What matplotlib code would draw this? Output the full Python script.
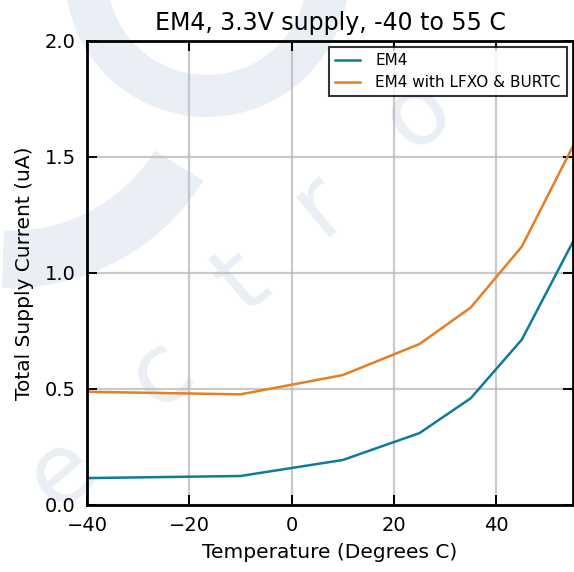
import matplotlib
matplotlib.use("Agg")
import matplotlib.pyplot as plt
from matplotlib.patches import Wedge
from matplotlib.transforms import IdentityTransform

temps = [-40, -10, 10, 25, 35, 45, 55]
em4 = [0.116, 0.125, 0.194, 0.310, 0.460, 0.713, 1.135]
em4_lfxo = [0.488, 0.477, 0.560, 0.694, 0.851, 1.114, 1.547]
series_labels = ["EM4", "EM4 with LFXO & BURTC"]
xticks = [-40, -20, 0, 20, 40]
yticks = [0.0, 0.5, 1.0, 1.5, 2.0]

W, H = 574, 572
fig = plt.figure(figsize=(W / 100, H / 100), dpi=100)
fig.patch.set_facecolor("white")

# faint watermark (pixel coords, origin bottom-left)
wm = "#eaeff6"
fig.patches.append(Wedge((207, H + 25), 142, 180, 360, width=42, transform=IdentityTransform(),
                         facecolor=wm, edgecolor="none", zorder=0))
fig.patches.append(Wedge((10, H - 60), 228, 268, 328, width=57, transform=IdentityTransform(),
                         facecolor=wm, edgecolor="none", zorder=0))
for ch, (px, py) in zip("ectro", [(62, 473), (161, 374), (242, 282), (319, 205), (418, 114)]):
    fig.text(px / W, 1 - py / H, ch, fontsize=70, color=wm, rotation=40,
             ha="center", va="center", zorder=0)

ax = fig.add_axes([87 / W, 1 - 505 / H, 486 / W, 464 / H])
ax.set_zorder(2)
ax.patch.set_alpha(0)

ax.plot(temps, em4, color="#0e7c99", lw=1.8, label=series_labels[0])
ax.plot(temps, em4_lfxo, color="#e67e22", lw=1.8, label=series_labels[1])

ax.set_xlim(-40, 55)
ax.set_ylim(0, 2.0)
ax.set_xticks(xticks)
ax.set_yticks(yticks)
ax.set_xticklabels(["\u221240", "\u221220", "0", "20", "40"])
ax.set_yticklabels([f"{v:.1f}" for v in yticks])
ax.grid(True, color="#b4b4b4", lw=1.6, alpha=0.7)
ax.set_axisbelow(True)
for s in ax.spines.values():
    s.set_linewidth(2.0)
ax.tick_params(direction="in", length=7, width=1.4, labelsize=14, pad=8,
               top=True, right=True)

ax.set_title("EM4, 3.3V supply, -40 to 55 C", fontsize=17, pad=8)
ax.set_xlabel("Temperature (Degrees C)", fontsize=14.5, labelpad=6)
ax.set_ylabel("Total Supply Current (uA)", fontsize=14.5, labelpad=8)

leg = ax.legend(loc="upper right", fontsize=11, frameon=True, fancybox=False,
                borderaxespad=0.4, handlelength=1.64, handletextpad=1.0,
                labelspacing=0.45, borderpad=0.4)
leg.get_frame().set_edgecolor("black")
leg.get_frame().set_linewidth(1.5)

fig.savefig("out.png", dpi=100)
